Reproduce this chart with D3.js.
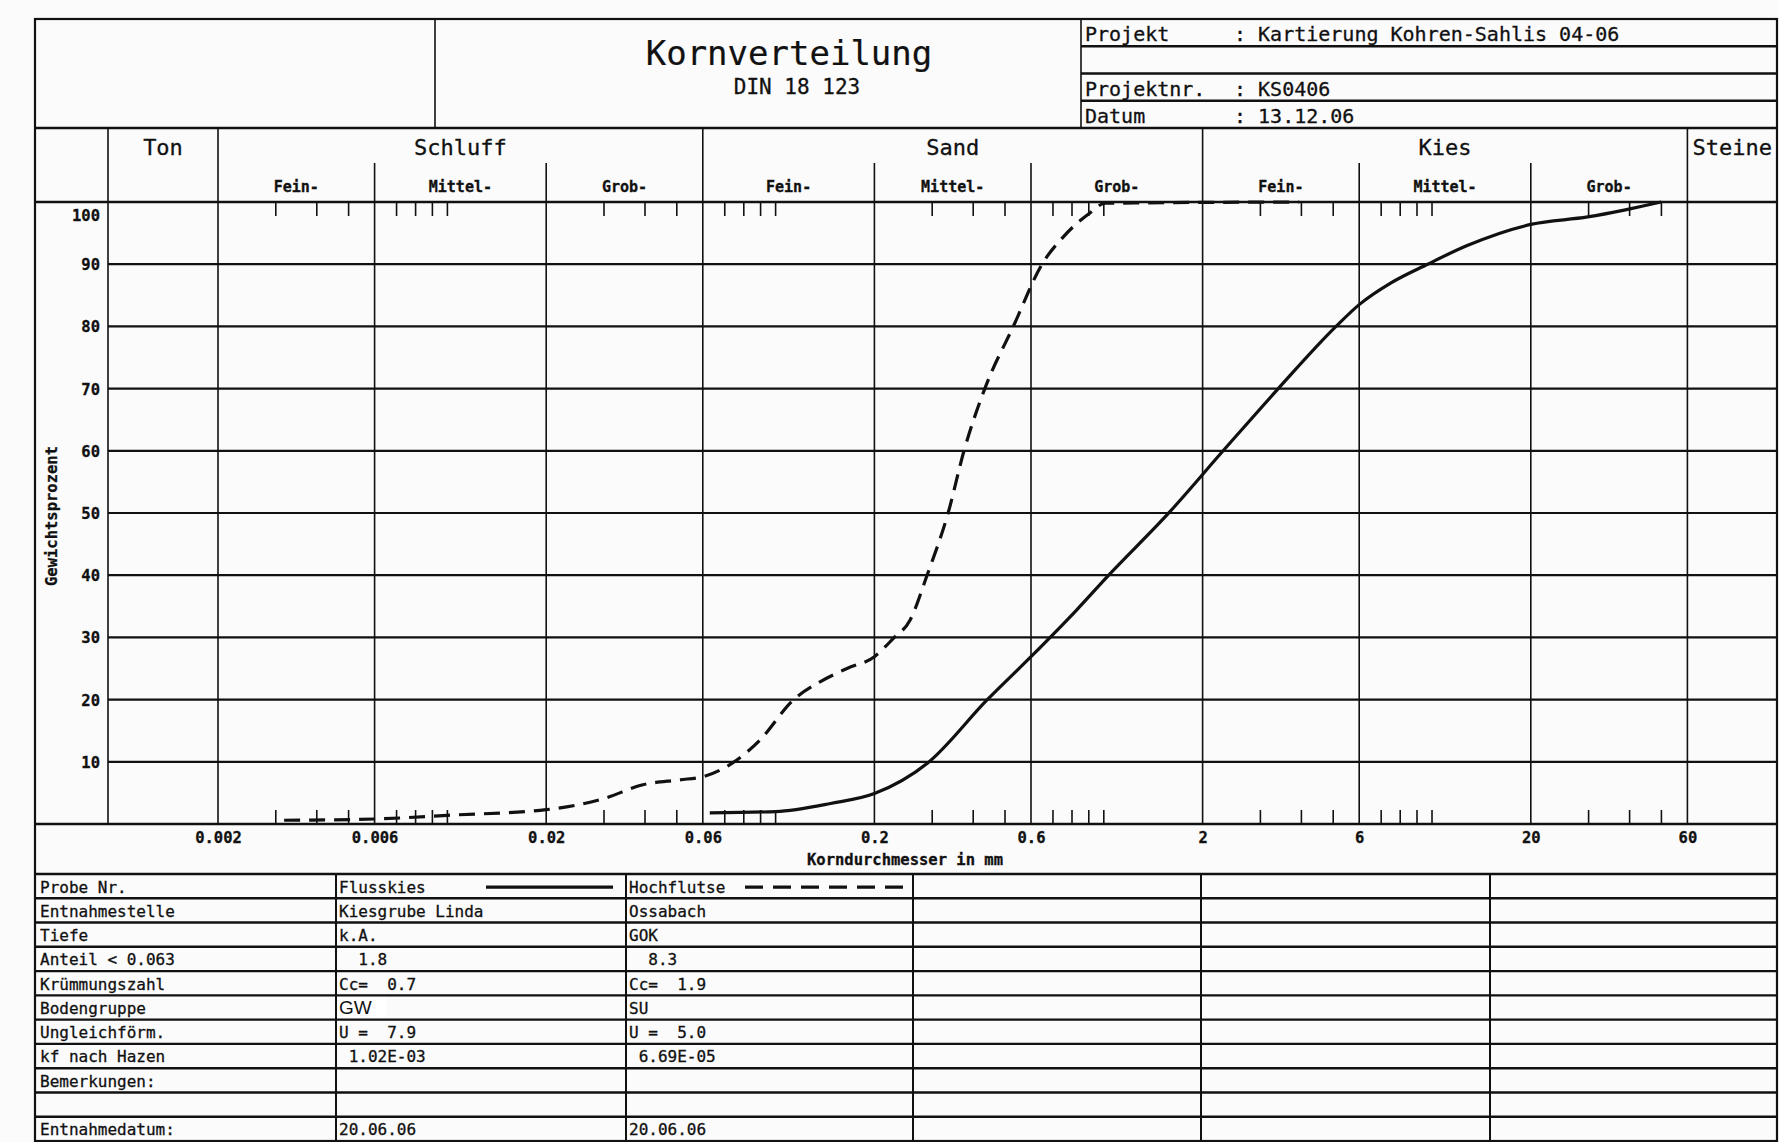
<!DOCTYPE html>
<html>
<head>
<meta charset="utf-8">
<script src="https://cdn.jsdelivr.net/npm/d3@7"></script>
<style>
html, body { margin: 0; padding: 0; background: #fbfbfb; }
svg { display: block; }
text { font-family: "DejaVu Sans Mono", monospace; fill: #111; white-space: pre; stroke: #111; stroke-width: 0.3px; }
</style>
</head>
<body>
<svg id="chart"></svg>
<script>
// Sieblinie Flusskies (solid) : [Korndurchmesser mm, Gewichtsprozent]
const flusskies = [
  [0.063, 1.8], [0.1, 2.0], [0.147, 3.3], [0.2, 4.9], [0.292, 9.9],
  [0.44, 19.9], [0.6, 26.9], [0.826, 34.4], [1.03, 39.9], [1.57, 49.9],
  [2.31, 60], [3.4, 70], [5.1, 80], [6.0, 83.5], [7.5, 87], [9.7, 90],
  [12.8, 93], [20, 96.4], [29.8, 97.6], [38.5, 98.7], [49.9, 100]
]
// Sieblinie Hochflutse (dashed)
const hochflutse = [
  [0.00318, 0.6], [0.006, 0.8], [0.01, 1.4], [0.02, 2.3], [0.03, 4.1], [0.0394, 6.3],
  [0.051, 7.1], [0.06, 7.6], [0.0743, 9.9], [0.0896, 13.5], [0.113, 19.9], [0.137, 22.9],
  [0.165, 25], [0.2, 26.9], [0.228, 29.8], [0.257, 32.8], [0.289, 39.9], [0.335, 49.9],
  [0.375, 60], [0.434, 70], [0.531, 80.1], [0.65, 90.1], [0.753, 94.4], [0.905, 98.2],
  [1.01, 99.8], [3.94, 100]
]

const xMajor = [0.002, 0.006, 0.02, 0.06, 0.2, 0.6, 2, 6, 20, 60]
const xMajorLabels = ["0.002", "0.006", "0.02", "0.06", "0.2", "0.6", "2", "6", "20", "60"]
const xMinor = [0.003, 0.004, 0.005, 0.007, 0.008, 0.009, 0.01, 0.03, 0.04, 0.05,
  0.07, 0.08, 0.09, 0.1, 0.3, 0.4, 0.5, 0.7, 0.8, 0.9, 1, 3, 4, 5, 7, 8, 9, 10, 30, 40, 50]
const yTicks = [10, 20, 30, 40, 50, 60, 70, 80, 90, 100]

const soilGroups = ["Ton", "Schluff", "Sand", "Kies", "Steine"]
const soilBounds = [[null, 0.002], [0.002, 0.06], [0.06, 2], [2, 60], [60, null]]
const subNames = ["Fein-", "Mittel-", "Grob-", "Fein-", "Mittel-", "Grob-", "Fein-", "Mittel-", "Grob-"]
const subBounds = [[0.002, 0.006], [0.006, 0.02], [0.02, 0.06], [0.06, 0.2], [0.2, 0.6], [0.6, 2],
  [2, 6], [6, 20], [20, 60]]

const projLabels = ["Projekt", "", "Projektnr.", "Datum"]
const projValues = [": Kartierung Kohren-Sahlis 04-06", "", ": KS0406", ": 13.12.06"]

const rowLabels = ["Probe Nr.", "Entnahmestelle", "Tiefe", "Anteil < 0.063", "Krümmungszahl",
  "Bodengruppe", "Ungleichförm.", "kf nach Hazen", "Bemerkungen:", "", "Entnahmedatum:"]
const flusskiesInfo = ["Flusskies", "Kiesgrube Linda", "k.A.", "  1.8", "Cc=  0.7",
  "GW", "U =  7.9", " 1.02E-03", "", "", "20.06.06"]
const hochflutseInfo = ["Hochflutse", "Ossabach", "GOK", "  8.3", "Cc=  1.9",
  "SU", "U =  5.0", " 6.69E-05", "", "", "20.06.06"]

const width = 1779
const height = 1142
const frame = {left: 35, right: 1777, top: 19, bottom: 1141}
const headBottom = 128, subTop = 163, plotTop = 202, plotBottom = 824, labelBottom = 874
const plotLeft = 108, titleLeft = 435, projLeft = 1081
const ink = "#111"

const svg = d3.select('#chart').attr('width', width).attr('height', height)
svg.append('rect').attr('width', width).attr('height', height).attr('fill', '#fbfbfb')

const x = d3.scaleLog().domain([0.002, 60]).range([218, 1687.4])
const y = d3.scaleLinear().domain([0, 100]).range([plotBottom, plotTop])
const bx = v => v === null ? null : x(v)

function hline(y0, x0, x1, w) {
  svg.append('line').attr('x1', x0).attr('x2', x1).attr('y1', y0).attr('y2', y0)
    .attr('stroke', ink).attr('stroke-width', w || 2)
}
function vline(x0, y0, y1, w) {
  svg.append('line').attr('x1', x0).attr('x2', x0).attr('y1', y0).attr('y2', y1)
    .attr('stroke', ink).attr('stroke-width', w || 1.6)
}

// frame + header
svg.append('rect').attr('x', frame.left).attr('y', frame.top)
  .attr('width', frame.right - frame.left).attr('height', frame.bottom - frame.top)
  .attr('fill', 'none').attr('stroke', ink).attr('stroke-width', 2.2)
hline(headBottom, frame.left, frame.right, 2.4)
vline(titleLeft, frame.top, headBottom)
vline(projLeft, frame.top, headBottom)

svg.append('text').attr('x', 789).attr('y', 65).attr('text-anchor', 'middle')
  .style('font-size', '34px').style('stroke-width', '0.2px').text('Kornverteilung')
svg.append('text').attr('x', 797).attr('y', 94).attr('text-anchor', 'middle')
  .style('font-size', '21px').text('DIN 18 123')

const projH = (headBottom - frame.top) / projLabels.length
projLabels.forEach((t, i) => {
  const top = frame.top + i * projH
  if (i > 0) hline(top, projLeft, frame.right, 2.4)
  svg.append('text').attr('x', projLeft + 4).attr('y', top + projH - 5)
    .style('font-size', '20px').text(t)
  svg.append('text').attr('x', 1234).attr('y', top + projH - 5)
    .style('font-size', '20px').text(projValues[i])
})

// soil classification header
soilGroups.forEach((g, i) => {
  const a = bx(soilBounds[i][0]) ?? plotLeft
  const b = bx(soilBounds[i][1]) ?? frame.right
  svg.append('text').attr('x', (a + b) / 2).attr('y', 155).attr('text-anchor', 'middle')
    .style('font-size', '22px').text(g)
})
subNames.forEach((s, i) => {
  const a = x(subBounds[i][0]), b = x(subBounds[i][1])
  svg.append('text').attr('x', (a + b) / 2).attr('y', 192).attr('text-anchor', 'middle')
    .style('font-size', '15px').style('font-weight', 'bold').text(s)
})

// grid
yTicks.filter(v => v < 100).forEach(v => hline(y(v), plotLeft, frame.right, 2.2))
hline(plotTop, frame.left, frame.right, 2.4)
hline(plotBottom, frame.left, frame.right, 2.4)
hline(labelBottom, frame.left, frame.right, 2.4)
vline(plotLeft, headBottom, plotBottom)
const groupEdges = soilBounds.map(b => b[1]).filter(v => v !== null)
xMajor.forEach(v => vline(x(v), groupEdges.includes(v) ? headBottom : subTop, plotBottom))

svg.append('g').selectAll('line').data(xMinor).enter().append('line')
  .attr('x1', d => x(d)).attr('x2', d => x(d)).attr('y1', plotTop).attr('y2', plotTop + 14)
  .attr('stroke', ink).attr('stroke-width', 1.6)
svg.append('g').selectAll('line').data(xMinor).enter().append('line')
  .attr('x1', d => x(d)).attr('x2', d => x(d)).attr('y1', plotBottom).attr('y2', plotBottom - 14)
  .attr('stroke', ink).attr('stroke-width', 1.6)

// axes labels
const yAxis = d3.axisLeft(y).tickValues(yTicks).tickSize(0).tickPadding(8)
const yg = svg.append('g').attr('transform', 'translate(' + plotLeft + ',0)').call(yAxis)
yg.select('.domain').remove()
yg.selectAll('text').style('font-size', '15.5px').style('font-family', '"DejaVu Sans Mono", monospace')
  .style('font-weight', 'bold').attr('fill', ink)
  .attr('dy', d => d === 100 ? '1.2em' : '0.35em')

const xAxis = d3.axisBottom(x).tickValues(xMajor).tickSize(0)
  .tickFormat((d, i) => xMajorLabels[i])
const xg = svg.append('g').attr('transform', 'translate(0,' + plotBottom + ')').call(xAxis)
xg.select('.domain').remove()
xg.selectAll('text').style('font-size', '15.5px').style('font-family', '"DejaVu Sans Mono", monospace')
  .style('font-weight', 'bold').attr('fill', ink).attr('y', 19).attr('dy', 0)

svg.append('text').attr('x', 905).attr('y', 865).attr('text-anchor', 'middle')
  .style('font-size', '15.5px').style('font-weight', 'bold').text('Korndurchmesser in mm')
svg.append('text').attr('transform', 'translate(57,516) rotate(-90)').attr('text-anchor', 'middle')
  .style('font-size', '15.5px').style('font-weight', 'bold').text('Gewichtsprozent')

// curves
const line = d3.line().x(d => x(d[0])).y(d => y(d[1])).curve(d3.curveMonotoneX)
svg.append('path').datum(flusskies).attr('d', line).attr('fill', 'none')
  .attr('stroke', ink).attr('stroke-width', 3.2)
svg.append('path').datum(hochflutse).attr('d', line).attr('fill', 'none')
  .attr('stroke', ink).attr('stroke-width', 3.2).attr('stroke-dasharray', '16,9')

// table
const colX = [336, 626, 913, 1201, 1490]
const rowH = (frame.bottom - labelBottom) / rowLabels.length
rowLabels.forEach((lab, i) => {
  const top = labelBottom + i * rowH
  if (i > 0) hline(top, frame.left, frame.right, 2.4)
  svg.append('text').attr('x', 40).attr('y', top + 18.5).style('font-size', '16px').text(lab)
  if (flusskiesInfo[i] === 'GW') {
    svg.append('rect').attr('x', 337).attr('y', top + 2).attr('width', 49).attr('height', rowH - 4)
      .attr('fill', '#ffffff')
    svg.append('text').attr('x', 339).attr('y', top + 19).style('font-family', '"Liberation Sans", Arial, sans-serif')
      .style('font-size', '19px').style('stroke-width', '0px').text(flusskiesInfo[i])
  } else {
    svg.append('text').attr('x', 339).attr('y', top + 18.5).style('font-size', '16px').text(flusskiesInfo[i])
  }
  svg.append('text').attr('x', 629).attr('y', top + 18.5).style('font-size', '16px').text(hochflutseInfo[i])
})
colX.forEach(c => vline(c, labelBottom, frame.bottom, 2))

// legend samples in first table row
const legY = labelBottom + rowH / 2 + 1
svg.append('line').attr('x1', 486).attr('x2', 613).attr('y1', legY).attr('y2', legY)
  .attr('stroke', ink).attr('stroke-width', 3.2)
svg.append('line').attr('x1', 745).attr('x2', 903).attr('y1', legY).attr('y2', legY)
  .attr('stroke', ink).attr('stroke-width', 3.2).attr('stroke-dasharray', '18,10')
</script>
</body>
</html>
